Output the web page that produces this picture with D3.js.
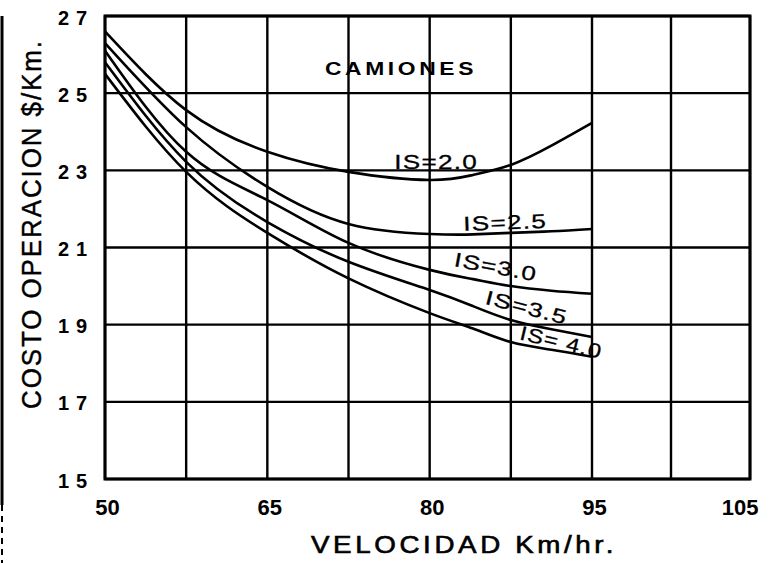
<!DOCTYPE html>
<html>
<head>
<meta charset="utf-8">
<script src="https://cdn.jsdelivr.net/npm/d3@7"></script>
<style>
  html, body { margin: 0; padding: 0; background: #fff; }
  svg { display: block; }
  text { font-family: "Liberation Sans", Arial, sans-serif; fill: #000; }
</style>
</head>
<body>
<svg id="chart" width="777" height="563"></svg>
<script>
// Speeds (km/h) at which each curve was read
const speeds = [50, 57.5, 65, 72.5, 80, 84, 87.5, 91.25, 95];

// Operating cost ($/km) for each surface index (IS)
const is20 = [26.6, 24.56, 23.48, 22.96, 22.75, 22.88, 23.14, 23.64, 24.23];
const is25 = [26.3, 24.12, 22.57, 21.61, 21.35, 21.34, 21.38, 21.42, 21.48];
const is30 = [26.1, 23.48, 22.23, 21.12, 20.42, 20.18, 20.00, 19.88, 19.80];
const is35 = [25.8, 23.22, 21.66, 20.63, 19.90, 19.48, 19.12, 18.88, 18.68];
const is40 = [25.5, 22.96, 21.38, 20.20, 19.30, 18.90, 18.55, 18.35, 18.17];

const seriesNames = ["IS=2.0", "IS=2.5", "IS=3.0", "IS=3.5", "IS= 4.0"];
const seriesValues = [is20, is25, is30, is35, is40];

// Axis ticks
const xTicks = [50, 65, 80, 95, 105];
const xTickLabels = ["50", "65", "80", "95", "105"];
const xGrid = [50, 57.5, 65, 72.5, 80, 87.5, 95, 100, 105];
const yTicks = [15, 17, 19, 21, 23, 25, 27];
const yTickLabels = ["15", "17", "19", "21", "23", "25", "27"];

const svg = d3.select("#chart");

// The printed axis gives 95→105 the same width as 80→95
const x = d3.scaleLinear().domain([50, 95, 105]).range([105, 592, 750]);
const y = d3.scaleLinear().domain([15, 27]).range([479, 16]);

// scanned page edge on the left
svg.append("line").attr("x1", 2).attr("x2", 2).attr("y1", 16).attr("y2", 505)
  .attr("stroke", "#000").attr("stroke-width", 3);
svg.append("line").attr("x1", 2).attr("x2", 2).attr("y1", 505).attr("y2", 563)
  .attr("stroke", "#000").attr("stroke-width", 2).attr("stroke-dasharray", "6,5");

// grid
const grid = svg.append("g");
grid.selectAll("line.v").data(xGrid).join("line")
  .attr("x1", d => x(d)).attr("x2", d => x(d))
  .attr("y1", y(27)).attr("y2", y(15))
  .attr("stroke", "#000").attr("stroke-width", 2.4);
grid.selectAll("line.h").data(yTicks).join("line")
  .attr("x1", x(50)).attr("x2", x(105))
  .attr("y1", d => y(d)).attr("y2", d => y(d))
  .attr("stroke", "#000").attr("stroke-width", 2.4);
grid.append("rect")
  .attr("x", x(50)).attr("y", y(27))
  .attr("width", x(105) - x(50)).attr("height", y(15) - y(27))
  .attr("fill", "none").attr("stroke", "#000").attr("stroke-width", 3);

// axes (labels only; grid supplies the lines)
const xAxis = d3.axisBottom(x).tickValues(xTicks)
  .tickFormat((d, i) => xTickLabels[i]).tickSize(0).tickPadding(0);
const gx = svg.append("g").attr("transform", `translate(0,${y(15) + 36})`).call(xAxis);
gx.select(".domain").remove();
gx.selectAll("text").attr("font-size", 22).attr("font-weight", "bold")
  .attr("font-family", "Liberation Sans, Arial, sans-serif").attr("dy", 0)
  .attr("text-anchor", (d, i) => i === xTicks.length - 1 ? "end" : "middle")
  .attr("dx", (d, i) => i === xTicks.length - 1 ? 8 : 2);

const yAxis = d3.axisLeft(y).tickValues(yTicks)
  .tickFormat((d, i) => yTickLabels[i]).tickSize(0).tickPadding(0);
const gy = svg.append("g").attr("transform", `translate(${x(50) - 33},0)`).call(yAxis);
gy.select(".domain").remove();
gy.selectAll("text").attr("font-size", 20).attr("font-weight", "bold")
  .attr("font-family", "Liberation Sans, Arial, sans-serif")
  .attr("text-anchor", "middle").attr("letter-spacing", 7).attr("dx", 4).attr("dy", "0.4em");

// curves
const line = d3.line()
  .x((d, i) => x(speeds[i]))
  .y(d => y(d))
  .curve(d3.curveNatural);
svg.append("g").selectAll("path").data(seriesValues).join("path")
  .attr("d", d => line(d))
  .attr("fill", "none").attr("stroke", "#000").attr("stroke-width", 2.6);

// curve labels (speed, cost, rotation)
const labelPos = [
  {sx: 80.6, sy: 23.04, rot: 0},
  {sx: 87.0, sy: 21.47, rot: -2},
  {sx: 86.0, sy: 20.32, rot: 10.5},
  {sx: 88.8, sy: 19.27, rot: 14.5},
  {sx: 92.0, sy: 18.37, rot: 13.5}
];
svg.append("g").selectAll("text").data(seriesNames).join("text")
  .attr("transform", (d, i) => `translate(${x(labelPos[i].sx)},${y(labelPos[i].sy)}) rotate(${labelPos[i].rot})`)
  .attr("text-anchor", "middle")
  .attr("font-size", 20).attr("letter-spacing", 1)
  .attr("stroke", "#000").attr("stroke-width", 0.3)
  .attr("textLength", 84).attr("lengthAdjust", "spacingAndGlyphs")
  .text(d => d);

// panel title
svg.append("text").attr("x", 401).attr("y", 75).attr("text-anchor", "middle")
  .attr("font-size", 19).attr("font-weight", "bold").attr("letter-spacing", 3)
  .attr("textLength", 152).attr("lengthAdjust", "spacingAndGlyphs")
  .text("CAMIONES");

// axis titles
svg.append("text").attr("x", 464).attr("y", 553).attr("text-anchor", "middle")
  .attr("font-size", 23).attr("letter-spacing", 3)
  .attr("stroke", "#000").attr("stroke-width", 0.6)
  .attr("textLength", 306).attr("lengthAdjust", "spacingAndGlyphs")
  .text("VELOCIDAD Km/hr.");

svg.append("text").attr("transform", "translate(41,224) rotate(-90)")
  .attr("text-anchor", "middle")
  .attr("font-size", 27).attr("letter-spacing", 2)
  .attr("stroke", "#000").attr("stroke-width", 0.4)
  .attr("textLength", 370).attr("lengthAdjust", "spacingAndGlyphs")
  .text("COSTO OPERACION $/Km.");
</script>
</body>
</html>
